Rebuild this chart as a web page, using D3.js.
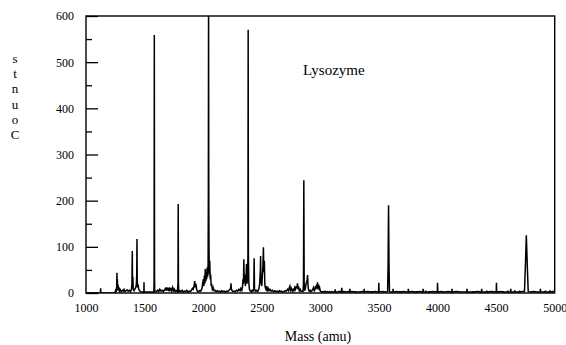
<!DOCTYPE html>
<html>
<head>
<meta charset="utf-8">
<script src="https://cdn.jsdelivr.net/npm/d3@7"></script>
<style>
  body { margin: 0; background: #fff; }
  svg { display: block; }
  text { font-family: "Liberation Serif", "Times New Roman", serif; fill: #000; }
</style>
</head>
<body>
<svg id="chart" width="566" height="345"></svg>
<script>
// ---- data ----
const title = "Lysozyme";
const xLabel = "Mass (amu)";
const yLabel = "Counts";
const xTicks = [1000, 1500, 2000, 2500, 3000, 3500, 4000, 4500, 5000];
const yTicks = [0, 100, 200, 300, 400, 500, 600];
const yMinorTicks = [50, 150, 250, 350, 450, 550];

const mass = [
  1000, 1120, 1123, 1125, 1127, 1245, 1250, 1255, 1258, 1262, 1264, 1266, 1268, 1270, 1274, 1277, 1282, 1286, 1292, 1300,
  1310, 1318, 1325, 1333, 1342, 1350, 1360, 1370, 1380, 1388, 1392, 1395, 1397, 1400, 1403, 1410, 1418, 1425, 1430, 1433,
  1435, 1437, 1440, 1445, 1450, 1458, 1465, 1475, 1485, 1492, 1494, 1495, 1496, 1505, 1530, 1560, 1579, 1581, 1583, 1585,
  1587, 1600, 1612, 1620, 1630, 1640, 1650, 1660, 1670, 1680, 1685, 1690, 1695, 1700, 1705, 1712, 1718, 1725, 1732, 1740,
  1748, 1755, 1762, 1770, 1780, 1785, 1787, 1789, 1792, 1800, 1810, 1820, 1830, 1840, 1850, 1860, 1870, 1880, 1890, 1900,
  1908, 1915, 1922, 1928, 1932, 1938, 1944, 1950, 1960, 1970, 1980, 1990, 1996, 2002, 2006, 2010, 2014, 2018, 2022, 2026,
  2030, 2034, 2038, 2042, 2044, 2046, 2048, 2050, 2053, 2056, 2060, 2064, 2068, 2072, 2078, 2085, 2092, 2100, 2110, 2120,
  2130, 2140, 2150, 2160, 2170, 2180, 2190, 2200, 2210, 2220, 2230, 2235, 2237, 2240, 2246, 2255, 2265, 2275, 2285, 2295,
  2305, 2315, 2322, 2330, 2336, 2340, 2344, 2347, 2350, 2355, 2360, 2366, 2370, 2374, 2378, 2382, 2384, 2386, 2390, 2395,
  2400, 2410, 2418, 2425, 2432, 2435, 2438, 2445, 2455, 2465, 2475, 2482, 2488, 2490, 2493, 2500, 2506, 2510, 2514, 2518,
  2522, 2526, 2530, 2536, 2542, 2548, 2555, 2562, 2570, 2580, 2590, 2600, 2610, 2620, 2630, 2640, 2650, 2660, 2670, 2680,
  2690, 2700, 2710, 2720, 2728, 2735, 2740, 2745, 2752, 2760, 2768, 2775, 2782, 2788, 2795, 2800, 2805, 2810, 2815, 2820,
  2828, 2835, 2845, 2852, 2856, 2859, 2862, 2866, 2872, 2878, 2884, 2888, 2891, 2894, 2898, 2905, 2912, 2920, 2928, 2935,
  2942, 2948, 2955, 2960, 2964, 2968, 2972, 2976, 2980, 2985, 2990, 2995, 3000, 3010, 3020, 3030, 3040, 3050, 3060, 3070,
  3080, 3090, 3100, 3110, 3120, 3124, 3126, 3128, 3140, 3160, 3176, 3180, 3183, 3186, 3190, 3200, 3220, 3240, 3250, 3252,
  3254, 3270, 3298, 3300, 3302, 3330, 3360, 3372, 3374, 3376, 3400, 3438, 3440, 3442, 3470, 3490, 3497, 3499, 3501, 3530,
  3560, 3574, 3578, 3582, 3586, 3590, 3600, 3619, 3621, 3623, 3650, 3678, 3680, 3682, 3710, 3740, 3749, 3751, 3753, 3780,
  3818, 3820, 3822, 3850, 3875, 3877, 3879, 3898, 3900, 3902, 3928, 3930, 3932, 3960, 3998, 4000, 4002, 4030, 4060, 4090,
  4122, 4124, 4126, 4160, 4200, 4250, 4252, 4254, 4298, 4300, 4302, 4340, 4375, 4377, 4379, 4418, 4420, 4422, 4460, 4501,
  4503, 4505, 4540, 4558, 4560, 4562, 4598, 4600, 4602, 4623, 4625, 4627, 4658, 4660, 4662, 4698, 4700, 4702, 4725, 4742,
  4750, 4758, 4766, 4774, 4790, 4820, 4850, 4876, 4878, 4880, 4918, 4920, 4922, 4958, 4960, 4962, 4985, 4998, 5000
];
const counts = [
  0, 0, 0, 10, 0, 0, 3, 8, 2, 15, 44, 10, 30, 6, 18, 5, 12, 4, 7, 3,
  6, 4, 8, 3, 5, 7, 4, 6, 3, 8, 20, 91, 15, 35, 8, 5, 9, 12, 20, 40,
  117, 30, 12, 18, 8, 5, 3, 2, 2, 2, 0, 23, 0, 2, 2, 2, 2, 30, 559, 30,
  2, 3, 6, 3, 8, 4, 6, 3, 7, 10, 5, 12, 6, 11, 4, 12, 6, 9, 4, 12,
  5, 8, 3, 5, 3, 20, 193, 20, 3, 5, 3, 6, 2, 4, 3, 6, 2, 4, 3, 6,
  10, 8, 15, 26, 12, 20, 8, 4, 3, 5, 4, 10, 22, 30, 15, 38, 20, 52, 25, 45,
  30, 55, 35, 60, 200, 640, 200, 95, 40, 70, 30, 40, 15, 20, 8, 12, 5, 6, 3, 5,
  3, 4, 2, 5, 3, 4, 2, 4, 3, 6, 8, 12, 21, 10, 5, 3, 4, 3, 6, 4,
  8, 5, 10, 6, 15, 30, 20, 73, 25, 40, 15, 35, 63, 20, 30, 80, 570, 80, 20, 8,
  5, 3, 6, 4, 10, 75, 10, 4, 6, 3, 8, 20, 50, 80, 25, 15, 40, 60, 99, 45,
  70, 20, 12, 8, 15, 6, 10, 5, 8, 4, 6, 3, 5, 3, 4, 2, 5, 3, 4, 2,
  3, 5, 4, 8, 5, 12, 15, 6, 10, 4, 8, 5, 12, 8, 15, 10, 21, 8, 14, 5,
  8, 3, 4, 3, 20, 244, 20, 5, 10, 20, 25, 30, 39, 20, 8, 4, 6, 3, 5, 8,
  12, 5, 8, 15, 10, 18, 8, 23, 10, 18, 6, 10, 4, 2, 3, 2, 4, 2, 3, 2,
  3, 2, 3, 2, 2, 2, 8, 2, 2, 3, 2, 6, 11, 4, 2, 3, 2, 3, 2, 9,
  2, 3, 2, 4, 2, 2, 3, 2, 9, 2, 3, 2, 4, 2, 3, 2, 2, 22, 2, 3,
  2, 3, 60, 190, 60, 3, 2, 2, 9, 2, 3, 2, 4, 2, 3, 2, 2, 9, 2, 3,
  2, 4, 2, 3, 2, 9, 2, 2, 5, 2, 2, 4, 2, 3, 2, 22, 2, 3, 2, 3,
  2, 9, 2, 3, 2, 2, 9, 2, 2, 4, 2, 3, 2, 9, 2, 2, 5, 2, 3, 2,
  22, 2, 3, 2, 4, 2, 2, 5, 2, 2, 9, 2, 2, 6, 2, 2, 5, 2, 3, 3,
  60, 125, 60, 3, 2, 3, 2, 2, 9, 2, 2, 5, 2, 2, 6, 2, 3, 2, 9
];

// ---- layout ----
const svg = d3.select("#chart");
const plotLeft = 86, plotRight = 554.7, plotTop = 16, plotBottom = 293;

const x = d3.scaleLinear().domain([1000, 5000]).range([plotLeft, plotRight]);
const y = d3.scaleLinear().domain([0, 600]).range([plotBottom, plotTop]);

svg.append("defs").append("clipPath").attr("id", "plotclip")
  .append("rect").attr("x", plotLeft).attr("y", plotTop)
  .attr("width", plotRight - plotLeft).attr("height", plotBottom - plotTop);

// spectrum trace
const pts = mass.map((m, i) => [m, counts[i]]);
const line = d3.line().x(d => x(d[0])).y(d => y(d[1]));
svg.append("path")
  .attr("clip-path", "url(#plotclip)")
  .attr("d", line(pts))
  .attr("fill", "none")
  .attr("stroke", "#000")
  .attr("stroke-width", 1.5)
  .attr("stroke-linejoin", "miter");

// y axis: inward major ticks with labels
const yAxis = d3.axisLeft(y).tickValues(yTicks).tickSize(-12).tickPadding(12).tickFormat(d3.format("d"));
const gy = svg.append("g").attr("transform", `translate(${plotLeft},0)`).call(yAxis);
gy.select(".domain").remove();
gy.selectAll("line").attr("stroke", "#000").attr("stroke-width", 1.3);
gy.selectAll("text").style("font-size", "12px").style("font-family", "'Liberation Serif', serif");

// y minor ticks
const yMinor = d3.axisLeft(y).tickValues(yMinorTicks).tickSize(-6).tickFormat("");
const gym = svg.append("g").attr("transform", `translate(${plotLeft},0)`).call(yMinor);
gym.select(".domain").remove();
gym.selectAll("line").attr("stroke", "#000").attr("stroke-width", 1.3);

// x axis labels
const xAxis = d3.axisBottom(x).tickValues(xTicks).tickSize(0).tickPadding(10).tickFormat(d3.format("d"));
const gx = svg.append("g").attr("transform", `translate(0,${plotBottom})`).call(xAxis);
gx.select(".domain").remove();
gx.selectAll("text").style("font-size", "12px").style("font-family", "'Liberation Serif', serif");

// frame
svg.append("rect")
  .attr("x", plotLeft).attr("y", plotTop)
  .attr("width", plotRight - plotLeft).attr("height", plotBottom - plotTop)
  .attr("fill", "none").attr("stroke", "#000").attr("stroke-width", 1.4);

// title inside plot
svg.append("text").attr("x", 303).attr("y", 75)
  .style("font-size", "15px").text(title);

// x label
svg.append("text").attr("x", 318).attr("y", 341)
  .attr("text-anchor", "middle").style("font-size", "14px").text(xLabel);

// y label: letters stacked vertically, reversed order
const yLetters = yLabel.split("").reverse();
svg.append("g").selectAll("text").data(yLetters).join("text")
  .attr("x", 15).attr("y", (d, i) => 63 + i * 15.2)
  .attr("text-anchor", "middle").style("font-size", "13px")
  .text(d => d);
</script>
</body>
</html>
